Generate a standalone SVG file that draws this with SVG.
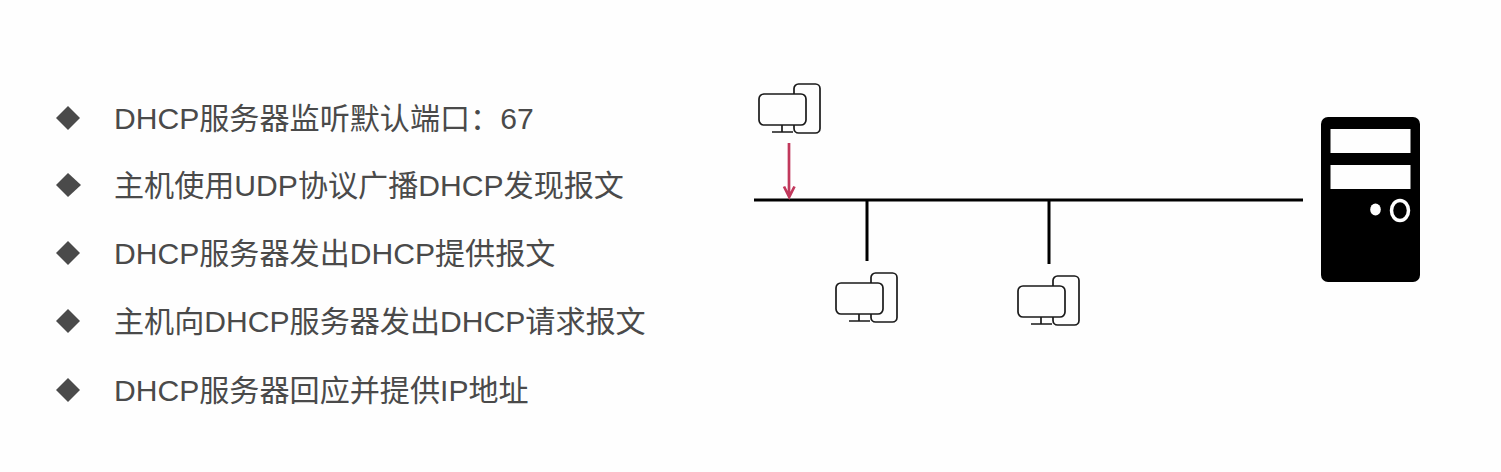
<svg xmlns="http://www.w3.org/2000/svg" width="1501" height="472" viewBox="0 0 1501 472">
<style>
.t{font-family:"Liberation Sans","Noto Sans CJK SC",sans-serif;font-size:30.100px;fill:#4a4a4a}
.b{fill:#4a4a4a}
.l{stroke:#000;stroke-width:3;fill:none}
.o{fill:#fefefe;stroke:#1a1a1a;stroke-width:1.700}
.s{stroke:#1a1a1a;stroke-width:1.700;fill:none}
</style>
<defs>
<g id="pc">
<rect class="o" x="35" y="0" width="26" height="49" rx="4.500"/>
<rect class="o" x="0" y="10" width="47" height="31" rx="5"/>
<path class="s" d="M23 41V48M13 48H34"/>
</g>
</defs>
<rect width="1501" height="472" fill="#fefefe"/>
<g id="list">
<path class="b" d="M68 106L80 118L68 130L56 118Z"/>
<text class="t" x="114" y="129">DHCP服务器监听默认端口：67</text>
<path class="b" d="M68 173L81 185L68 197L56 185Z"/>
<text class="t" x="114" y="196">主机使用UDP协议广播DHCP发现报文</text>
<path class="b" d="M68 241L80 253L68 265L56 253Z"/>
<text class="t" x="114" y="264">DHCP服务器发出DHCP提供报文</text>
<path class="b" d="M68 309L80 321L68 333L56 321Z"/>
<text class="t" x="114" y="332">主机向DHCP服务器发出DHCP请求报文</text>
<path class="b" d="M68 378L80 390L68 402L56 390Z"/>
<text class="t" x="114" y="401">DHCP服务器回应并提供IP地址</text>
</g>
<g id="connectors">
<path class="l" d="M754 200H1303M867 200V261M1049 200V264"/>
<path d="M789 143V197M784 186.500L789.200 197L794.500 186.500" fill="none" stroke="#c1385c" stroke-width="2.700"/>
</g>
<g id="host-a"><use href="#pc" x="759" y="84"/></g>
<g id="host-b"><use href="#pc" x="836" y="273"/></g>
<g id="host-c"><use href="#pc" x="1018" y="276"/></g>
<g id="server">
<rect x="1321" y="117" width="99" height="165" rx="7" fill="#000"/>
<rect x="1330.500" y="129" width="80" height="24" fill="#fefefe"/>
<rect x="1330.500" y="165" width="80" height="24" fill="#fefefe"/>
<ellipse cx="1375.500" cy="209.500" rx="5.300" ry="6" fill="#fefefe"/>
<ellipse cx="1400" cy="210.500" rx="8.500" ry="10" fill="none" stroke="#fefefe" stroke-width="3.500"/>
</g>
</svg>
